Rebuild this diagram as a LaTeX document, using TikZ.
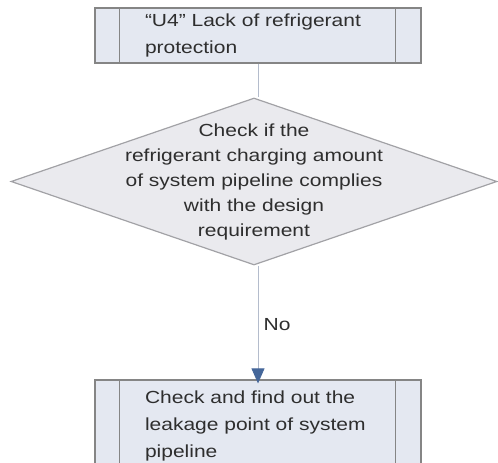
\documentclass[tikz,border=0pt]{standalone}
\usepackage{fontspec}
\setmainfont[FakeStretch=1.2]{Liberation Sans}
\usetikzlibrary{arrows.meta, positioning, shapes.geometric, calc}
\definecolor{cboxfill}{HTML}{E4E8F1}
\definecolor{cboxline}{HTML}{858585}
\definecolor{cdiafill}{HTML}{EAEAEE}
\definecolor{cdialine}{HTML}{A2A2A6}
\definecolor{cwire}{HTML}{B4BCCC}
\definecolor{chead}{HTML}{45679A}
\definecolor{ctext}{HTML}{2E2E2E}
\tikzset{
  every picture/.style={line width=1.2pt},
  procbox/.style={draw=cboxline, fill=cboxfill, minimum width=326pt, text width=226pt, inner xsep=50pt,
    align=left, text=ctext, font=\fontsize{17.5}{27}\selectfont},
  sidebar/.style={draw=cboxline, line width=1.2pt},
  decision/.style={draw=cdialine, fill=cdiafill, diamond, inner sep=0pt},
  dtext/.style={align=center, text=ctext, font=\fontsize{17.5}{25}\selectfont},
  wire/.style={draw=cwire, line width=0.8pt},
  arrow/.style={wire, -{Triangle[length=15pt, width=13pt, color=chead]}},
  note/.style={text=ctext, font=\fontsize{17.5}{21}\selectfont},
}
\begin{document}
\begin{tikzpicture}[x=1pt, y=-1pt]
  \useasboundingbox (0,0) rectangle (498,463);
  \clip (0,0) rectangle (498,463);
  % top process box
  \node[procbox, minimum height=55pt] (alarm) at (258,35.5) {``U4'' Lack of refrigerant\\protection};
  \draw[sidebar] ([xshift=25pt]alarm.north west) -- ([xshift=25pt]alarm.south west);
  \draw[sidebar] ([xshift=-26pt]alarm.north east) -- ([xshift=-26pt]alarm.south east);
  % decision
  \node[decision, minimum width=486pt, minimum height=167pt] (check) at (254,181.5) {};
  \node[dtext] (checktxt) at (check.center) {Check if the\\refrigerant charging amount\\of system pipeline complies\\with the design\\requirement};
  \draw[wire] (alarm.south) -- (alarm.south |- check.north);
  % bottom process box
  \node[procbox, minimum height=92pt] (leak) at (258,426) {Check and find out the\\leakage point of system\\pipeline};
  \draw[sidebar] ([xshift=25pt]leak.north west) -- ([xshift=25pt]leak.south west);
  \draw[sidebar] ([xshift=-26pt]leak.north east) -- ([xshift=-26pt]leak.south east);
  \draw[arrow] (leak.north |- check.south) -- node[note, right=2pt] (no) {No} ([yshift=-4pt]leak.north);
\end{tikzpicture}
\end{document}
